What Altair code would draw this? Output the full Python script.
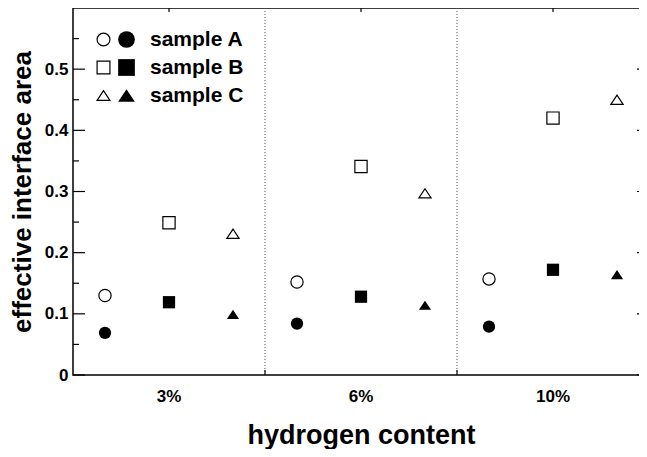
import altair as alt
import pandas as pd

groups = ["3%", "6%", "10%"]
samples = ["sample A", "sample B", "sample C"]
open_A = [0.130, 0.152, 0.157]
open_B = [0.249, 0.341, 0.420]
open_C = [0.231, 0.297, 0.450]
filled_A = [0.069, 0.084, 0.079]
filled_B = [0.119, 0.128, 0.172]
filled_C = [0.099, 0.114, 0.164]
major_ticks = [0.0, 0.1, 0.2, 0.3, 0.4, 0.5]
minor_ticks = [0.05, 0.15, 0.25, 0.35, 0.45, 0.55]

W, H = 576, 367
FONT = "Liberation Sans"
TRI = "M0,-0.75L-1,0.75L1,0.75Z"


def build(series):
    rows = []
    for s, vals in zip(samples, series):
        for g, v in zip(groups, vals):
            rows.append({"group": g, "sample": s, "value": v})
    return pd.DataFrame(rows)


df_open = build([open_A, open_B, open_C])
df_filled = build([filled_A, filled_B, filled_C])
df_major = pd.DataFrame({"value": major_ticks})
df_minor = pd.DataFrame({"value": minor_ticks})
df_div = pd.DataFrame({"group": groups[1:]})
df_grp = pd.DataFrame({"group": groups})

x_scale = alt.Scale(domain=groups, paddingInner=0, paddingOuter=0)
y_scale = alt.Scale(domain=[0, 0.6], nice=False, zero=True)
x_axis = alt.Axis(title="hydrogen content", labelAngle=0, ticks=False, tickSize=0,
                  domain=False, grid=False, labelPadding=13, titlePadding=18)
y_axis = alt.Axis(title="effective interface area", values=major_ticks,
                  labelExpr="datum.value == 0 ? '0' : format(datum.value, '.1f')",
                  ticks=False, tickSize=0, domain=False, grid=False,
                  labelPadding=5, titlePadding=9)


def X(**kw):
    return alt.X("group:N", scale=x_scale, axis=x_axis, **kw)


def Y():
    return alt.Y("value:Q", scale=y_scale, axis=y_axis)


xoff = alt.XOffset("sample:N", scale=alt.Scale(type="band", domain=samples,
                                               paddingInner=0, paddingOuter=0))
shape_scale = alt.Scale(domain=samples, range=["circle", "square", TRI])

open_layer = alt.Chart(df_open).mark_point(
    filled=False, color="black", strokeWidth=1.2, opacity=1, size=150
).encode(
    x=X(), xOffset=xoff, y=Y(),
    shape=alt.Shape("sample:N", scale=shape_scale, legend=alt.Legend(
        orient="none", legendX=20, legendY=21, title=None, labelExpr="' '",
        labelFontSize=21, labelFont=FONT, symbolSize=165, symbolStrokeColor="black",
        symbolStrokeWidth=1.2, symbolFillColor="white", rowPadding=6, padding=0)),
)

filled_layer = alt.Chart(df_filled).mark_point(
    filled=True, color="black", opacity=1, size=150
).encode(
    x=X(), xOffset=xoff, y=Y(),
    shape=alt.Shape("sample:N", scale=shape_scale, legend=alt.Legend(
        orient="none", legendX=43, legendY=21, title=None,
        labelFontSize=21, labelFont=FONT, labelFontWeight="bold", labelColor="black",
        labelOffset=13, symbolSize=280, symbolFillColor="black",
        symbolStrokeColor="black", symbolStrokeWidth=0, rowPadding=6, padding=0)),
)

dividers = alt.Chart(df_div).mark_rule(
    color="#555", strokeWidth=1, strokeDash=[1, 2]
).encode(x=X(bandPosition=0))

bottom_ticks = alt.Chart(df_div).mark_rule(color="black", strokeWidth=1.2).encode(
    x=X(bandPosition=0), y=alt.value(H), y2=alt.value(H - 5))

top_ticks = alt.Chart(df_grp).mark_rule(color="black", strokeWidth=1.2).encode(
    x=X(bandPosition=0.5), y=alt.value(0), y2=alt.value(4))

left_major = alt.Chart(df_major).mark_rule(color="black", strokeWidth=1.2).encode(
    y=Y(), x=alt.value(0), x2=alt.value(12))
left_minor = alt.Chart(df_minor).mark_rule(color="black", strokeWidth=1.2).encode(
    y=Y(), x=alt.value(0), x2=alt.value(6))
right_major = alt.Chart(df_major).mark_rule(color="black", strokeWidth=1.2).encode(
    y=Y(), x=alt.value(W - 12), x2=alt.value(W))
right_minor = alt.Chart(df_minor).mark_rule(color="black", strokeWidth=1.2).encode(
    y=Y(), x=alt.value(W - 6), x2=alt.value(W))

chart = alt.layer(
    dividers, bottom_ticks, top_ticks, left_major, left_minor, right_major, right_minor,
    open_layer, filled_layer
).resolve_scale(shape="independent").resolve_legend(
    shape="independent"
).properties(
    width=W, height=H,
    autosize=alt.AutoSizeParams(type="none"),
    padding={"left": 65, "top": 0, "right": -10, "bottom": 74},
).configure_view(
    stroke="black", strokeWidth=1.5
).configure_axis(
    labelFont=FONT, labelFontWeight="bold", labelFontSize=17, labelColor="black",
    titleFont=FONT, titleFontWeight="bold", titleColor="black",
).configure_axisX(titleFontSize=27).configure_axisY(titleFontSize=26)

chart.save("out.html", embed_options={"renderer": "svg", "actions": False})
